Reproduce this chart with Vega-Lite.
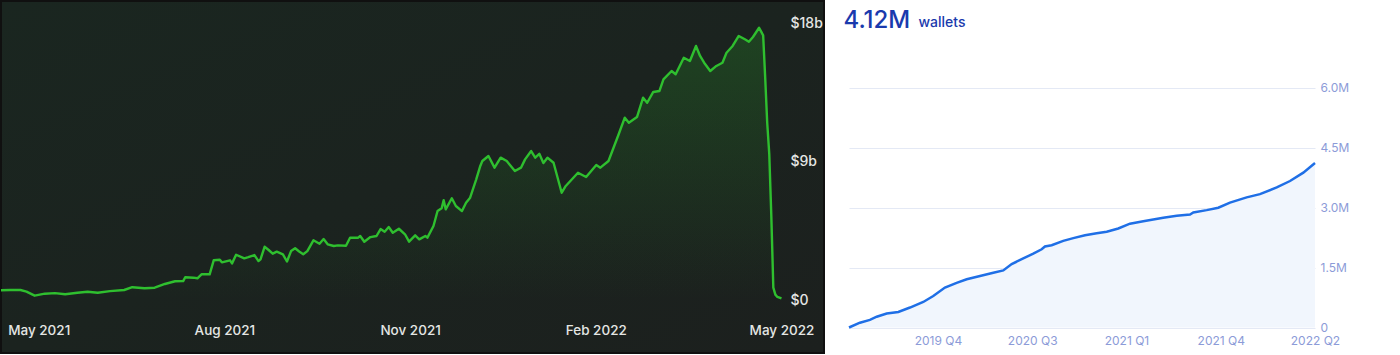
{
  "$schema": "https://vega.github.io/schema/vega-lite/v6.json",
  "padding": 0,
  "background": "white",
  "spacing": 18,
  "config": {"view": {"stroke": null}, "font": "Inter"},
  "datasets": {
    "left": [
      {"date": "2021-04-27", "tvl": 0.63}, {"date": "2021-05-02", "tvl": 0.65}, {"date": "2021-05-07", "tvl": 0.65}, {"date": "2021-05-10", "tvl": 0.54},
      {"date": "2021-05-14", "tvl": 0.28}, {"date": "2021-05-19", "tvl": 0.41}, {"date": "2021-05-24", "tvl": 0.45}, {"date": "2021-05-29", "tvl": 0.37},
      {"date": "2021-06-04", "tvl": 0.47}, {"date": "2021-06-09", "tvl": 0.54}, {"date": "2021-06-14", "tvl": 0.47}, {"date": "2021-06-20", "tvl": 0.58},
      {"date": "2021-06-27", "tvl": 0.65}, {"date": "2021-07-01", "tvl": 0.83}, {"date": "2021-07-07", "tvl": 0.76}, {"date": "2021-07-12", "tvl": 0.80},
      {"date": "2021-07-17", "tvl": 1.04}, {"date": "2021-07-22", "tvl": 1.22}, {"date": "2021-07-26", "tvl": 1.23}, {"date": "2021-07-27", "tvl": 1.48},
      {"date": "2021-07-31", "tvl": 1.45}, {"date": "2021-08-02", "tvl": 1.41}, {"date": "2021-08-04", "tvl": 1.67}, {"date": "2021-08-08", "tvl": 1.67},
      {"date": "2021-08-10", "tvl": 2.58}, {"date": "2021-08-13", "tvl": 2.62}, {"date": "2021-08-14", "tvl": 2.45}, {"date": "2021-08-18", "tvl": 2.58},
      {"date": "2021-08-19", "tvl": 2.38}, {"date": "2021-08-21", "tvl": 2.94}, {"date": "2021-08-25", "tvl": 2.71}, {"date": "2021-08-27", "tvl": 2.79},
      {"date": "2021-08-30", "tvl": 2.92}, {"date": "2021-09-01", "tvl": 2.53}, {"date": "2021-09-02", "tvl": 2.64}, {"date": "2021-09-04", "tvl": 3.46},
      {"date": "2021-09-06", "tvl": 3.25}, {"date": "2021-09-08", "tvl": 3.01}, {"date": "2021-09-10", "tvl": 3.14}, {"date": "2021-09-13", "tvl": 2.97},
      {"date": "2021-09-15", "tvl": 2.5}, {"date": "2021-09-17", "tvl": 3.18}, {"date": "2021-09-19", "tvl": 3.36}, {"date": "2021-09-21", "tvl": 3.15},
      {"date": "2021-09-23", "tvl": 2.97}, {"date": "2021-09-25", "tvl": 3.18}, {"date": "2021-09-28", "tvl": 3.88}, {"date": "2021-10-01", "tvl": 3.66},
      {"date": "2021-10-03", "tvl": 3.96}, {"date": "2021-10-05", "tvl": 3.62}, {"date": "2021-10-08", "tvl": 3.51}, {"date": "2021-10-10", "tvl": 3.55},
      {"date": "2021-10-14", "tvl": 3.53}, {"date": "2021-10-16", "tvl": 4.05}, {"date": "2021-10-20", "tvl": 4.05}, {"date": "2021-10-21", "tvl": 4.16},
      {"date": "2021-10-23", "tvl": 3.79}, {"date": "2021-10-26", "tvl": 4.09}, {"date": "2021-10-29", "tvl": 4.16}, {"date": "2021-10-31", "tvl": 4.61},
      {"date": "2021-11-02", "tvl": 4.44}, {"date": "2021-11-04", "tvl": 4.74}, {"date": "2021-11-06", "tvl": 4.37}, {"date": "2021-11-09", "tvl": 4.63},
      {"date": "2021-11-12", "tvl": 4.27}, {"date": "2021-11-14", "tvl": 3.79}, {"date": "2021-11-17", "tvl": 4.20}, {"date": "2021-11-19", "tvl": 3.94},
      {"date": "2021-11-22", "tvl": 4.16}, {"date": "2021-11-23", "tvl": 4.05}, {"date": "2021-11-26", "tvl": 4.81}, {"date": "2021-11-28", "tvl": 5.78},
      {"date": "2021-11-30", "tvl": 5.96}, {"date": "2021-12-01", "tvl": 6.48}, {"date": "2021-12-02", "tvl": 5.89}, {"date": "2021-12-05", "tvl": 6.61},
      {"date": "2021-12-07", "tvl": 6.11}, {"date": "2021-12-10", "tvl": 5.78}, {"date": "2021-12-12", "tvl": 6.32}, {"date": "2021-12-14", "tvl": 6.65},
      {"date": "2021-12-17", "tvl": 7.84}, {"date": "2021-12-19", "tvl": 8.71}, {"date": "2021-12-20", "tvl": 9.03}, {"date": "2021-12-23", "tvl": 9.36},
      {"date": "2021-12-26", "tvl": 8.60}, {"date": "2021-12-29", "tvl": 9.25}, {"date": "2022-01-01", "tvl": 9.03}, {"date": "2022-01-05", "tvl": 8.38},
      {"date": "2022-01-08", "tvl": 8.60}, {"date": "2022-01-10", "tvl": 9.14}, {"date": "2022-01-13", "tvl": 9.68}, {"date": "2022-01-15", "tvl": 9.25},
      {"date": "2022-01-17", "tvl": 9.5}, {"date": "2022-01-19", "tvl": 8.9}, {"date": "2022-01-21", "tvl": 9.25}, {"date": "2022-01-24", "tvl": 8.92},
      {"date": "2022-01-28", "tvl": 6.97}, {"date": "2022-01-30", "tvl": 7.41}, {"date": "2022-02-05", "tvl": 8.27}, {"date": "2022-02-09", "tvl": 7.99},
      {"date": "2022-02-14", "tvl": 8.77}, {"date": "2022-02-16", "tvl": 8.60}, {"date": "2022-02-20", "tvl": 9.03}, {"date": "2022-02-25", "tvl": 10.77},
      {"date": "2022-02-28", "tvl": 11.85}, {"date": "2022-03-02", "tvl": 11.52}, {"date": "2022-03-06", "tvl": 11.89}, {"date": "2022-03-09", "tvl": 13.15},
      {"date": "2022-03-11", "tvl": 12.82}, {"date": "2022-03-14", "tvl": 13.52}, {"date": "2022-03-17", "tvl": 13.58}, {"date": "2022-03-19", "tvl": 14.34},
      {"date": "2022-03-23", "tvl": 14.88}, {"date": "2022-03-25", "tvl": 14.67}, {"date": "2022-03-29", "tvl": 15.74}, {"date": "2022-04-01", "tvl": 15.53},
      {"date": "2022-04-04", "tvl": 16.51}, {"date": "2022-04-06", "tvl": 15.86}, {"date": "2022-04-08", "tvl": 15.42}, {"date": "2022-04-11", "tvl": 14.88},
      {"date": "2022-04-14", "tvl": 15.21}, {"date": "2022-04-17", "tvl": 15.42}, {"date": "2022-04-19", "tvl": 16.07}, {"date": "2022-04-22", "tvl": 16.51},
      {"date": "2022-04-25", "tvl": 17.16}, {"date": "2022-04-28", "tvl": 16.94}, {"date": "2022-04-30", "tvl": 16.78}, {"date": "2022-05-02", "tvl": 17.09},
      {"date": "2022-05-05", "tvl": 17.69}, {"date": "2022-05-07", "tvl": 17.2}, {"date": "2022-05-08", "tvl": 14.45}, {"date": "2022-05-09", "tvl": 11.5},
      {"date": "2022-05-10", "tvl": 9.5}, {"date": "2022-05-11", "tvl": 5.5}, {"date": "2022-05-12", "tvl": 0.8}, {"date": "2022-05-13", "tvl": 0.35},
      {"date": "2022-05-14", "tvl": 0.2}, {"date": "2022-05-16", "tvl": 0.1}
    ],
    "right": [
      {"t": 0.056, "wallets": 0}, {"t": 0.172, "wallets": 120000}, {"t": 0.278, "wallets": 190000}, {"t": 0.350, "wallets": 270000},
      {"t": 0.456, "wallets": 350000}, {"t": 0.579, "wallets": 390000}, {"t": 0.703, "wallets": 500000}, {"t": 0.844, "wallets": 640000},
      {"t": 0.950, "wallets": 790000}, {"t": 1.074, "wallets": 1000000}, {"t": 1.198, "wallets": 1120000}, {"t": 1.305, "wallets": 1210000},
      {"t": 1.446, "wallets": 1290000}, {"t": 1.587, "wallets": 1370000}, {"t": 1.693, "wallets": 1430000}, {"t": 1.782, "wallets": 1590000},
      {"t": 1.905, "wallets": 1730000}, {"t": 2.011, "wallets": 1850000}, {"t": 2.100, "wallets": 1960000}, {"t": 2.135, "wallets": 2030000},
      {"t": 2.206, "wallets": 2060000}, {"t": 2.329, "wallets": 2170000}, {"t": 2.436, "wallets": 2240000}, {"t": 2.560, "wallets": 2310000},
      {"t": 2.684, "wallets": 2360000}, {"t": 2.790, "wallets": 2400000}, {"t": 2.913, "wallets": 2480000}, {"t": 3.037, "wallets": 2600000},
      {"t": 3.178, "wallets": 2660000}, {"t": 3.390, "wallets": 2750000}, {"t": 3.533, "wallets": 2800000}, {"t": 3.674, "wallets": 2830000},
      {"t": 3.709, "wallets": 2880000}, {"t": 3.851, "wallets": 2940000}, {"t": 3.974, "wallets": 3000000}, {"t": 4.098, "wallets": 3130000},
      {"t": 4.275, "wallets": 3260000}, {"t": 4.416, "wallets": 3340000}, {"t": 4.594, "wallets": 3510000}, {"t": 4.735, "wallets": 3670000},
      {"t": 4.876, "wallets": 3880000}, {"t": 5.0, "wallets": 4120000}
    ]
  },
  "hconcat": [
    {
      "width": 823,
      "height": 352,
      "data": {"name": "left"},
      "view": {
        "fill": {"gradient": "linear", "x1": 0, "y1": 0, "x2": 1, "y2": 1, "stops": [{"offset": 0, "color": "#1a2620"}, {"offset": 1, "color": "#1c201e"}]},
        "stroke": "#101010",
        "strokeWidth": 2
      },
      "encoding": {
        "x": {
          "field": "date", "type": "temporal",
          "scale": {"type": "utc", "domain": [
            {"year": 2021, "month": "apr", "date": 27, "hours": 11, "minutes": 17, "utc": true},
            {"year": 2022, "month": "jun", "date": 5, "hours": 21, "minutes": 36, "utc": true}
          ]},
          "axis": {
            "orient": "bottom", "offset": -23, "zindex": 1,
            "values": [
              {"year": 2021, "month": "may", "date": 16, "utc": true},
              {"year": 2021, "month": "aug", "date": 15, "hours": 6, "utc": true},
              {"year": 2021, "month": "nov", "date": 14, "hours": 12, "utc": true},
              {"year": 2022, "month": "feb", "date": 13, "hours": 18, "utc": true},
              {"year": 2022, "month": "may", "date": 16, "utc": true}
            ],
            "format": "%b %Y",
            "labelColor": "#e4e6e4", "labelFontSize": 13.5, "labelFont": "Inter", "labelFontWeight": 500,
            "ticks": false, "domain": false, "grid": false, "labelPadding": 0, "labelBaseline": "middle",
            "labelAlign": "center", "labelFlush": false, "labelOverlap": false, "title": null
          }
        },
        "y": {
          "field": "tvl", "type": "quantitative",
          "scale": {"domain": [-3.444, 19.43], "nice": false, "zero": false},
          "axis": {
            "orient": "right", "offset": -34, "zindex": 1, "values": [0, 9, 18],
            "labelExpr": "datum.value == 0 ? '$0' : '$' + datum.value + 'b'",
            "labelAlign": "left", "labelBaseline": "middle", "labelPadding": 0,
            "labelColor": "#e4e6e4", "labelFontSize": 14, "labelFont": "Inter", "labelFontWeight": 500,
            "ticks": false, "domain": false, "grid": false, "title": null, "labelOverlap": false
          }
        }
      },
      "layer": [
        {
          "mark": {"type": "area", "clip": true, "color": {"gradient": "linear", "x1": 0, "y1": 1, "x2": 0, "y2": 0, "stops": [{"offset": 0, "color": "rgba(40,150,40,0)"}, {"offset": 1, "color": "rgba(40,150,40,0.28)"}]}},
          "encoding": {"y2": {"datum": 0}}
        },
        {"mark": {"type": "line", "clip": true, "color": "#2fbf2f", "strokeWidth": 2.4, "strokeJoin": "round"}}
      ]
    },
    {
      "width": 466,
      "height": 326.5,
      "data": {"name": "right"},
      "encoding": {
        "x": {
          "field": "t", "type": "quantitative",
          "scale": {"domain": [0.056, 5], "nice": false, "zero": false},
          "axis": {
            "values": [1, 2, 3, 4, 5],
            "labelExpr": "['','2019 Q4','2020 Q3','2021 Q1','2021 Q4','2022 Q2'][datum.value]",
            "grid": false, "ticks": false, "domain": false,
            "labelColor": "#8c9bd8", "labelFontSize": 12, "labelFont": "Inter", "labelPadding": 8,
            "labelFlush": false, "labelOverlap": false,
            "title": "4.12M", "titleX": -6, "titleY": -300.5, "titleAlign": "left", "titleBaseline": "alphabetic",
            "titleFontSize": 24, "titleFontWeight": 500, "titleColor": "#1a3aad", "titleFont": "Inter"
          }
        },
        "y": {
          "field": "wallets", "type": "quantitative",
          "scale": {"domain": [0, 8179540], "nice": false},
          "axis": {
            "orient": "right", "values": [0, 1500000, 3000000, 4500000, 6000000],
            "labelExpr": "datum.value == 0 ? '0' : format(datum.value / 1000000, '.1f') + 'M'",
            "grid": true, "gridColor": "#e4e9f5", "gridWidth": 1, "ticks": false, "domain": false,
            "labelPadding": 5, "labelColor": "#8c9bd8", "labelFontSize": 12, "labelFont": "Inter",
            "title": "wallets", "titleAngle": 0, "titleX": -397, "titleY": 25.7, "titleAlign": "left",
            "titleBaseline": "alphabetic", "titleFontSize": 14, "titleFontWeight": 500, "titleColor": "#1a3aad", "titleFont": "Inter"
          }
        }
      },
      "layer": [
        {"mark": {"type": "area", "color": "#f1f6fd"}},
        {"mark": {"type": "line", "color": "#1f6fe6", "strokeWidth": 2.5}}
      ]
    }
  ]
}
